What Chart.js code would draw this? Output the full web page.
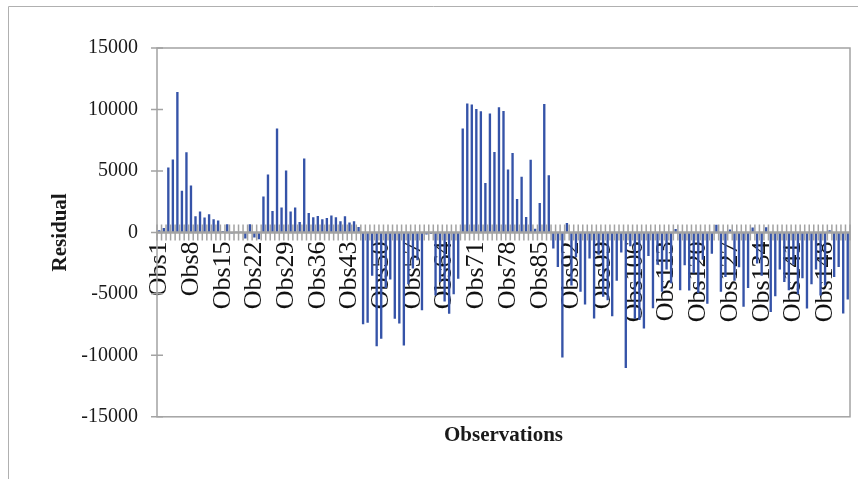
<!DOCTYPE html>
<html>
<head>
<meta charset="utf-8">
<script src="https://cdn.jsdelivr.net/npm/chart.js@4.4.1/dist/chart.umd.min.js"></script>
<style>
  html, body { margin: 0; padding: 0; background: #ffffff; }
  canvas { display: block; }
</style>
</head>
<body>
<canvas id="myChart" width="858" height="479"></canvas>
<script>
const residuals = [
  150, 330, 5260, 5900, 11400, 3370, 6500, 3780, 1290, 1670,
  1180, 1450, 1040, 940, 80, 640, -60, 30, 20, -470,
  640, -390, -530, 2890, 4680, 1720, 8420, 2000, 5000, 1670,
  2000, 810, 5980, 1550, 1200, 1300, 1040, 1150, 1340, 1200,
  880, 1290, 770, 880, 420, -7440, -7330, -3500, -9230, -8630,
  -4500, -3800, -7000, -7380, -9170, -4200, -2900, -2240, -6300, -150,
  -100, -5100, -4000, -5600, -6600, -5000, -3750, 8420, 10450, 10370,
  10020, 9830, 4000, 9640, 6520, 10150, 9850, 5080, 6440, 2700,
  4490, 1230, 5890, 280, 2370, 10420, 4620, -1290, -2780, -10150,
  730, -4300, -2000, -4800, -5840, -2100, -6980, -1800, -5200, -5500,
  -6790, -3900, -1600, -11000, -1100, -7000, -7100, -7800, -1900, -6150,
  -2600, -4800, -3000, -4100, 250, -4680, -2640, -4700, -3300, -4900,
  -2200, -5770, -1720, 600, -4800, -3600, 200, -3900, -2800, -6030,
  -4500, 370, -2500, -3500, 400, -6440, -5160, -3000, -4000, -4680,
  -2600, -5000, -3700, -6170, -4190, -3000, -5100, -4300, 150, -3600,
  -2780, -6570, -5430,
];

// category names Obs1..Obs153, only every 7th one is printed
const obs_labels = residuals.map((v, i) => "Obs" + (i + 1));
const label_step = 7;

const y_min = -15000;
const y_max = 15000;
const y_step = 5000;

const serif = "'Liberation Serif', 'Times New Roman', serif";
const axis_grey = "#a3a3a3";

// excel style axes: plot box, zero line with cross ticks, outer frame
const excel_axes = {
  id: "excelAxes",
  beforeDraw(chart) {
    const ctx = chart.ctx;
    ctx.save();
    ctx.strokeStyle = "#b0b0b0";
    ctx.lineWidth = 1;
    ctx.beginPath();
    ctx.moveTo(8.5, chart.height);
    ctx.lineTo(8.5, 6.5);
    ctx.lineTo(chart.width, 6.5);
    ctx.stroke();
    ctx.restore();
  },
  afterDatasetsDraw(chart) {
    const { ctx, chartArea: a, scales } = chart;
    const x = scales.x;
    const y = scales.y;
    ctx.save();
    ctx.strokeStyle = axis_grey;
    ctx.lineWidth = 1.5;
    ctx.strokeRect(a.left, a.top, a.right - a.left, a.bottom - a.top);

    // y ticks crossing the axis
    ctx.beginPath();
    for (let v = y_min; v <= y_max; v += y_step) {
      const py = y.getPixelForValue(v);
      ctx.moveTo(a.left - 6, py);
      ctx.lineTo(a.left + 6, py);
    }
    ctx.stroke();

    // category axis at zero
    const y0 = y.getPixelForValue(0);
    ctx.lineWidth = 2.5;
    ctx.beginPath();
    ctx.moveTo(a.left, y0);
    ctx.lineTo(a.right, y0);
    ctx.stroke();

    const w = (a.right - a.left) / residuals.length;
    ctx.lineWidth = 1.5;
    ctx.beginPath();
    for (let k = 0; k <= residuals.length; k++) {
      const px = x.getPixelForValue(k) - w / 2;
      ctx.moveTo(px, y0 - 8);
      ctx.lineTo(px, y0 + 8);
    }
    ctx.stroke();
    ctx.restore();
  },
};

const data = {
  labels: obs_labels,
  datasets: [
    {
      label: "Residual",
      backgroundColor: "#3553a8",
      borderWidth: 0,
      barThickness: 1.7,
      data: residuals,
    },
  ],
};

const config = {
  type: "bar",
  data: data,
  options: {
    responsive: false,
    animation: false,
    devicePixelRatio: 1,
    layout: {
      padding: { top: 48, right: 8, left: 0, bottom: 0 },
    },
    plugins: {
      legend: { display: false },
      tooltip: { enabled: false },
      title: {
        display: true,
        position: "bottom",
        fullSize: false,
        text: "Observations",
        color: "#1a1a1a",
        font: { family: serif, size: 21, weight: "bold" },
        padding: { top: 6, bottom: 31 },
      },
    },
    scales: {
      x: {
        type: "category",
        position: { y: 0 },
        offset: true,
        grid: { display: false, drawTicks: false },
        border: { display: false },
        // the rotated labels would otherwise push the plot in from the right
        afterFit: (scale) => {
          scale.paddingLeft = 0;
          scale.paddingRight = 0;
        },
        ticks: {
          autoSkip: false,
          minRotation: 90,
          maxRotation: 90,
          padding: 9,
          color: "#111111",
          font: { family: serif, size: 26 },
          callback: function (value, index) {
            return index % label_step === 0 ? obs_labels[index] : "";
          },
        },
      },
      y: {
        min: y_min,
        max: y_max,
        grid: { display: false, drawTicks: false },
        border: { display: false },
        afterFit: (scale) => {
          scale.width = 157;
        },
        ticks: {
          stepSize: y_step,
          padding: 19,
          color: "#1a1a1a",
          font: { family: serif, size: 20 },
          callback: (value) => String(value),
        },
        title: {
          display: true,
          text: "Residual",
          color: "#1a1a1a",
          font: { family: serif, size: 21, weight: "bold" },
          padding: { top: 48, bottom: 0 },
        },
      },
    },
  },
  plugins: [excel_axes],
};

const myChart = new Chart(document.getElementById("myChart"), config);
</script>
</body>
</html>
